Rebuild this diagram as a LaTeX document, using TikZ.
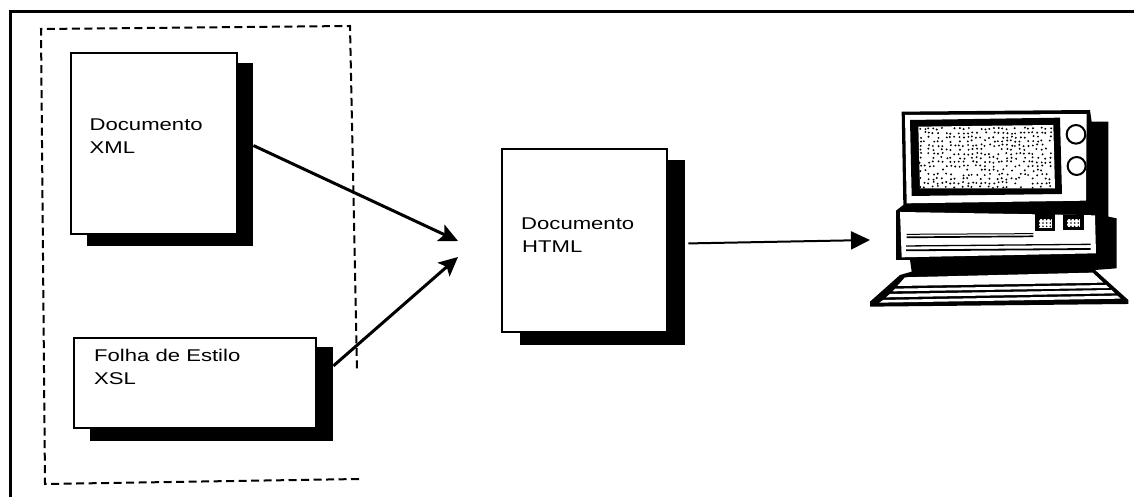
\documentclass[tikz,border=0pt]{standalone}
\usepackage{fontspec}
\setmainfont{Liberation Sans}
\usetikzlibrary{arrows.meta,calc}
\tikzset{
  docbox/.style={draw=black,line width=2pt,fill=white,minimum width=#1,inner sep=0pt,anchor=north west},
  shadowbox/.style={fill=black,draw=none,minimum width=#1,inner sep=0pt,anchor=north west},
  doctext/.style={anchor=base west,inner sep=0pt,align=left},
  frameline/.style={line width=3pt,line cap=rect},
  dashbox/.style={line width=2pt,dash pattern=on 8pt off 4.5pt},
  boldarrow/.style={line width=3pt,-{Stealth[length=19pt,width=18pt,inset=4pt]}},
  lightarrow/.style={line width=2pt,-{Triangle[length=19pt,width=18pt]}}
}
\newcommand{\labeltext}[1]{\scalebox{1.3}[1]{\fontsize{17}{23}\selectfont #1}}
\begin{document}
\begin{tikzpicture}[x=1pt,y=-1pt]
\useasboundingbox (0,0) rectangle (1134,497);
\fill[white] (0,0) rectangle (1134,497);
% page frame
\coordinate (fbl) at (10.7,497);
\coordinate (ftl) at (10.7,11.3);
\coordinate (ftr) at (1134,11.3);
\draw[frameline] (fbl) -- (ftl) -- (ftr);
% dashed group
\coordinate (d1) at (359,479);
\coordinate (d2) at (45,484);
\coordinate (d3) at (41,29);
\coordinate (d4) at (350,26);
\coordinate (d5) at (357,370);
\draw[dashbox] (d1) -- (d2) -- (d3) -- (d4) -- (d5);
% XML document
\node[shadowbox=166pt,minimum height=183pt] (xmlshadow) at (87,63) {};
\node[docbox=166pt,minimum height=181pt] (xml) at (70,52) {};
\node[doctext] (xmltext) at (89.5,130.5) {\labeltext{Documento}};
\node[doctext] (xmltextb) at (89.5,154) {\labeltext{XML}};
% XSL sheet
\node[shadowbox=243pt,minimum height=94pt] (xslshadow) at (90,347) {};
\node[docbox=242pt,minimum height=90pt] (xsl) at (73,337) {};
\node[doctext] (xsltext) at (94,361) {\labeltext{Folha de Estilo}};
\node[doctext] (xsltextb) at (94,384) {\labeltext{XSL}};
% HTML document
\node[shadowbox=165pt,minimum height=185pt] (htmlshadow) at (520,160) {};
\node[docbox=165pt,minimum height=183pt] (html) at (501,148) {};
\node[doctext] (htmltext) at (521,229.5) {\labeltext{Documento}};
\node[doctext] (htmltextb) at (522,252) {\labeltext{HTML}};
% connectors
\coordinate (meetA) at (458,241);
\coordinate (meetB) at (458,257);
\coordinate (pc) at (870,240);
\draw[boldarrow] ($(xmlshadow.north east)!0.45!(xmlshadow.south east)$) -- (meetA);
\draw[boldarrow] ($(xslshadow.north east)!0.2!(xslshadow.south east)$) -- (meetB);
\draw[lightarrow] ($(htmlshadow.north east)!0.45!(htmlshadow.south east)+(3,0)$) -- (pc);
% computer
\begin{scope}[shift={(860,90)},x=0.3333pt,y=-0.3333pt]
 \fill[black] (125,65) -- (690,60) -- (695,95) -- (745,95) -- (745,380) -- (770,385) -- (770,535) -- (705,540) -- (805,630) -- (805,642) -- (30,650) -- (30,635) -- (120,555) -- (155,545) -- (150,510) -- (108,510) -- (108,362) -- (130,345) -- cycle;
 \fill[white] (135,75) -- (680,72) -- (678,332) -- (140,340) -- cycle;
 \fill[black] (150,90) -- (600,83) -- (606,312) -- (155,318) -- cycle;
 \fill[white] (175,110) -- (580,105) -- (585,295) -- (180,295) -- cycle;
 \pgfmathsetseed{7}
 \foreach \i in {0,...,30}{
  \foreach \j in {0,...,14}{
   \pgfmathsetmacro{\px}{181+\i*13+rand*3}
   \pgfmathsetmacro{\py}{116+\j*12.5+rand*3}
   \pgfmathparse{rnd<0.72?1:0}
   \ifnum\pgfmathresult=1\relax \fill[black] (\px,\py) circle[radius=3.2];\fi
  }
 }
 \fill[white,draw=black,line width=2pt] (648,133) circle[radius=28];
 \fill[white,draw=black,line width=2pt] (650,228) circle[radius=27];
 \fill[white] (120,366) -- (705,376) -- (708,490) -- (125,502) -- cycle;
 \fill[black] (524,372) rectangle (586,423);
 \fill[black] (610,376) rectangle (672,421);
 \fill[white] (536,386) rectangle (576,414);
 \fill[white] (620,386) rectangle (660,412);
 \foreach \i in {0,...,3}{
  \foreach \j in {0,...,2}{
   \fill[black] (538+\i*11,389+\j*10) circle[radius=2.6];
   \fill[black] (622+\i*11,389+\j*10) circle[radius=2.6];
  }
 }
 \draw[line width=1pt] (140,433) -- (520,431);
 \draw[line width=1.7pt] (140,442) -- (520,439);
 \draw[line width=1.3pt] (138,468) -- (692,463);
 \draw[line width=1.8pt] (138,481) -- (692,477);
 \fill[white] (135,562) -- (698,548) -- (730,578) -- (112,588) -- cycle;
 \fill[white] (106,596) -- (738,585) -- (748,594) -- (98,604) -- cycle;
 \fill[white] (90,612) -- (755,600) -- (765,610) -- (78,622) -- cycle;
 \fill[white] (70,630) -- (772,617) -- (782,626) -- (58,638) -- cycle;
\end{scope}
\end{tikzpicture}
\end{document}
